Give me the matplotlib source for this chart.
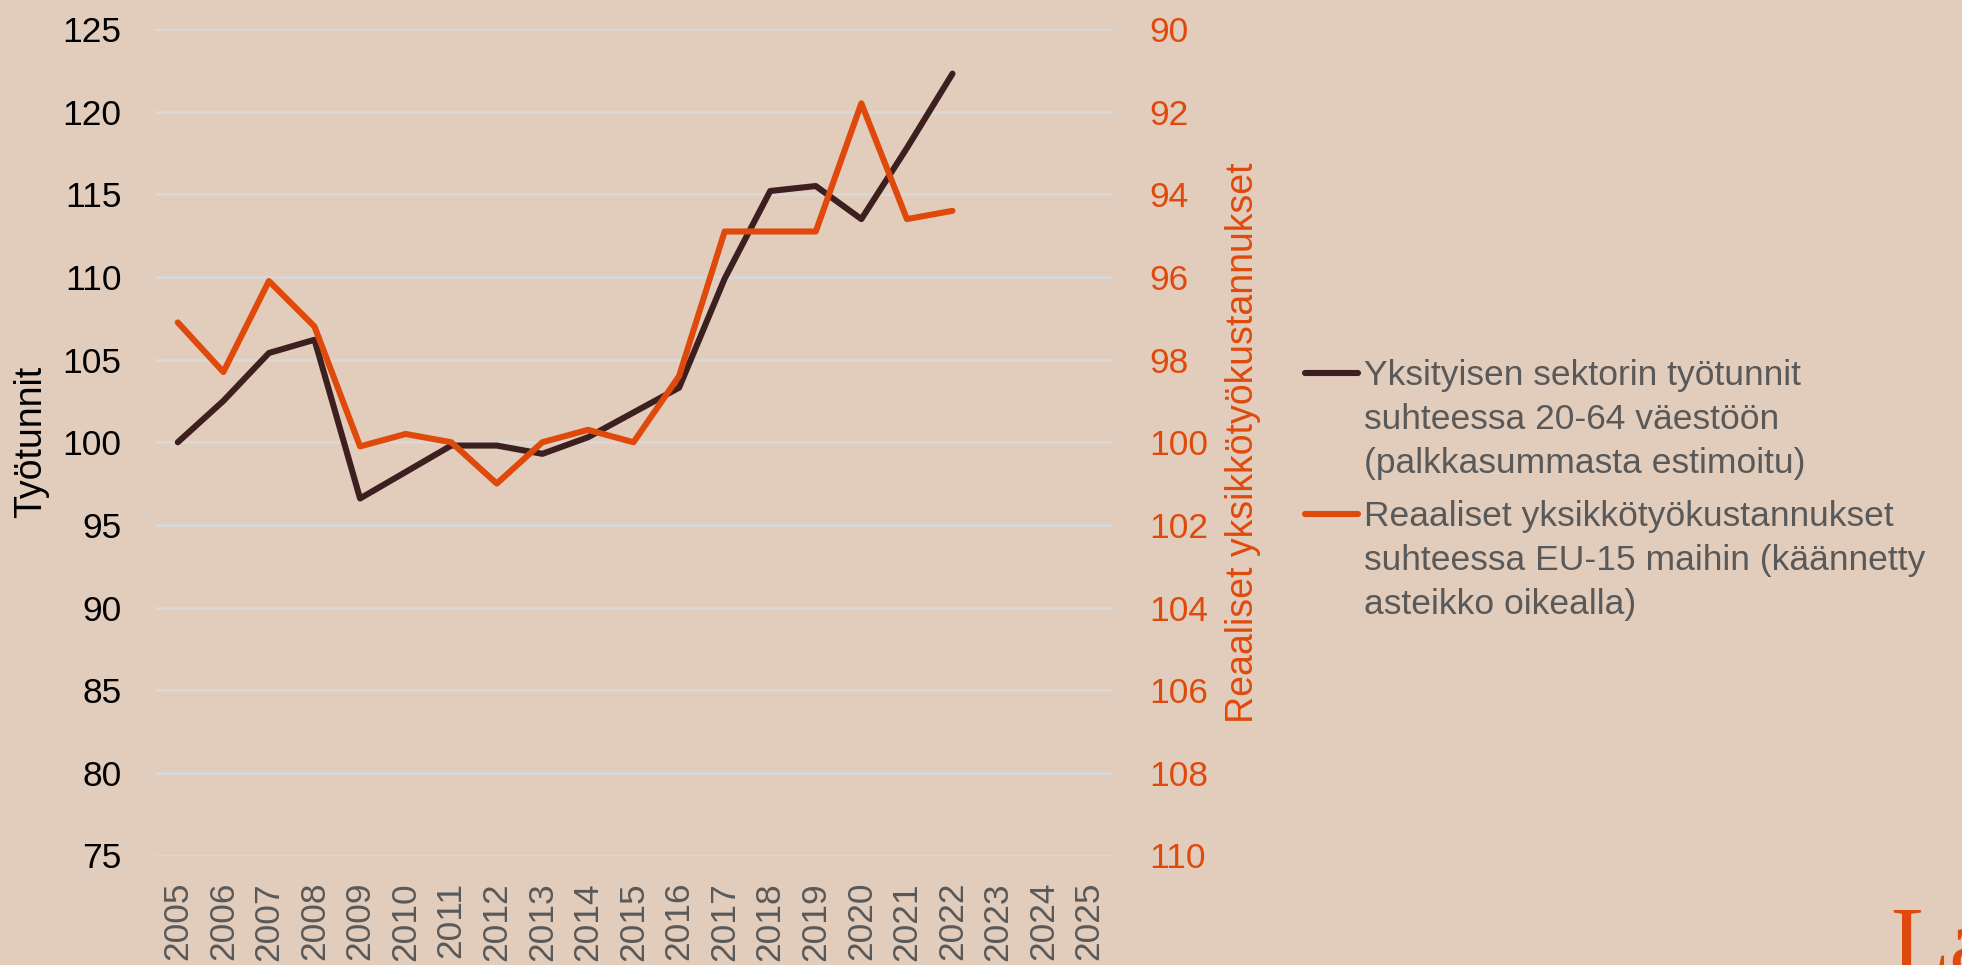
import matplotlib.pyplot as plt
from matplotlib.lines import Line2D

plt.rcParams["font.family"] = ["Liberation Sans", "DejaVu Sans"]

years = [str(y) for y in range(2005, 2026)]

# Yksityisen sektorin työtunnit (vasen asteikko)
hours = [100.0, 102.5, 105.4, 106.2, 96.6, 98.2, 99.8, 99.8, 99.3, 100.3,
         101.8, 103.3, 109.9, 115.2, 115.5, 113.5, 117.8, 122.3]
# Reaaliset yksikkötyökustannukset (oikea asteikko, käännetty)
ulc = [97.1, 98.3, 96.1, 97.2, 100.1, 99.8, 100.0, 101.0, 100.0, 99.7,
       100.0, 98.4, 94.9, 94.9, 94.9, 91.8, 94.6, 94.4]

left_ticks = list(range(75, 126, 5))
right_ticks = list(range(90, 111, 2))

BG = "#E2CDBD"
DARK = "#3D1F1F"
ORANGE = "#DF4A0C"
GREY = "#595959"
GRID = "#D9D9D9"
FS = 25.5
LW = 4.4

W, H = 1962, 965
fig = plt.figure(figsize=(W / 100, H / 100), dpi=100, facecolor=BG)
ax = fig.add_axes([155 / W, 1 - 855.5 / H, (1112 - 155) / W, (855.5 - 29) / H])
ax.set_facecolor(BG)
ax2 = ax.twinx()

ax.plot(range(len(hours)), hours, color=DARK, lw=LW, solid_capstyle="round", zorder=3)
ax2.plot(range(len(ulc)), ulc, color=ORANGE, lw=LW, solid_capstyle="round", zorder=3)

ax.set_xlim(-0.5, len(years) - 0.5)
ax.set_xticks(range(len(years)))
ax.set_xticklabels(years, rotation=90, fontsize=FS, color=GREY)
ax.set_ylim(75, 125)
ax.set_yticks(left_ticks)
ax.set_yticklabels([str(t) for t in left_ticks], fontsize=FS, color="black")
ax.yaxis.grid(True, color=GRID, lw=2)
ax.set_axisbelow(True)
ax.tick_params(axis="y", length=0, pad=24)
ax.tick_params(axis="x", length=0, pad=19)
ax.set_ylabel("Työtunnit", fontsize=27, color="black", labelpad=10)

ax2.set_ylim(110, 90)
ax2.set_yticks(right_ticks)
ax2.set_yticklabels([str(t) for t in right_ticks], fontsize=FS, color=ORANGE)
ax2.tick_params(axis="y", length=0, pad=27)
ax2.set_ylabel("Reaaliset yksikkötyökustannukset", fontsize=27, color=ORANGE, labelpad=12)

for a in (ax, ax2):
    for s in a.spines.values():
        s.set_visible(False)

# legend drawn by hand so the handle sits on the first text line
entries = [
    (DARK, "Yksityisen sektorin työtunnit\nsuhteessa 20-64 väestöön\n(palkkasummasta estimoitu)", 373),
    (ORANGE, "Reaaliset yksikkötyökustannukset\nsuhteessa EU-15 maihin (käännetty\nasteikko oikealla)", 514),
]
for color, label, ypx in entries:
    yf = 1 - ypx / H
    fig.add_artist(Line2D([1305 / W, 1358 / W], [yf, yf], color=color, lw=LW,
                          solid_capstyle="round", transform=fig.transFigure))
    fig.text(1364 / W, 1 - (ypx - 14) / H, label, fontsize=FS, color=GREY,
             va="top", ha="left", linespacing=1.43)

fig.text(1890 / W, 1 - 974 / H, "La", fontsize=70, color=ORANGE,
         family="Liberation Serif", va="baseline", ha="left")

fig.savefig("out.png", dpi=100, facecolor=BG)
